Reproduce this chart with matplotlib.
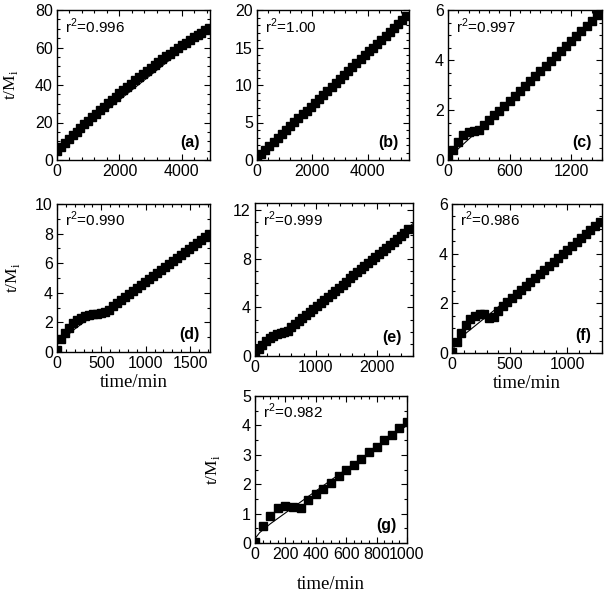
import matplotlib
matplotlib.use("Agg")
import matplotlib.pyplot as plt
from matplotlib.ticker import MultipleLocator

plt.rcParams['font.family'] = ['Liberation Sans', 'DejaVu Sans']
plt.rcParams['font.size'] = 11

# ---- data (time in min, t/Mi) ----
a_x = [0, 125, 250, 375, 500, 625, 750, 875, 1000, 1125, 1250, 1375, 1500, 1625,
       1750, 1875, 2000, 2125, 2250, 2375, 2500, 2625, 2750, 2875, 3000, 3125,
       3250, 3375, 3500, 3625, 3750, 3875, 4000, 4125, 4250, 4375, 4500, 4625,
       4750, 4875]
a_y = [5.0, 7.0, 9.1, 11.1, 13.1, 15.1, 17.0, 19.0, 20.9, 22.8, 24.7, 26.5,
       28.4, 30.2, 32.0, 33.8, 35.6, 37.3, 39.1, 40.8, 42.5, 44.1, 45.8, 47.4,
       49.0, 50.6, 52.2, 53.7, 55.3, 56.8, 58.3, 59.7, 61.2, 62.6, 64.0, 65.4,
       66.7, 68.0, 69.3, 70.6]

b_x = [0, 150, 300, 450, 600, 750, 900, 1050, 1200, 1350, 1500, 1650, 1800, 1950,
       2100, 2250, 2400, 2550, 2700, 2850, 3000, 3150, 3300, 3450, 3600, 3750,
       3900, 4050, 4200, 4350, 4500, 4650, 4800, 4950, 5100, 5250, 5400]
b_y = [0.3, 0.83, 1.35, 1.88, 2.4, 2.93, 3.45, 3.98, 4.5, 5.03, 5.55, 6.08, 6.6,
       7.13, 7.65, 8.18, 8.7, 9.23, 9.75, 10.28, 10.8, 11.33, 11.85, 12.38, 12.9,
       13.43, 13.95, 14.48, 15.0, 15.53, 16.05, 16.58, 17.1, 17.63, 18.15, 18.68,
       19.2]

c_x = [0, 50, 100, 150, 200, 250, 300, 350, 400, 450, 500, 550, 600, 650, 700,
       750, 800, 850, 900, 950, 1000, 1050, 1100, 1150, 1200, 1250, 1300, 1350,
       1400, 1450]
c_y = [0.05, 0.4, 0.72, 1.0, 1.12, 1.17, 1.19, 1.39, 1.59, 1.79, 1.97, 2.17, 2.37,
       2.57, 2.77, 2.97, 3.17, 3.37, 3.57, 3.77, 3.97, 4.17, 4.37, 4.57, 4.77,
       4.97, 5.18, 5.38, 5.58, 5.79]

d_x = [0, 45, 90, 135, 180, 225, 270, 315, 360, 405, 450, 495, 540, 585, 630, 675,
       720, 765, 810, 855, 900, 945, 990, 1035, 1080, 1125, 1170, 1215, 1260,
       1305, 1350, 1395, 1440, 1485, 1530, 1575, 1620, 1665, 1710]
d_y = [0.15, 0.9, 1.3, 1.65, 1.95, 2.15, 2.3, 2.42, 2.5, 2.55, 2.58, 2.62, 2.7,
       2.85, 3.1, 3.3, 3.5, 3.71, 3.91, 4.11, 4.32, 4.52, 4.72, 4.93, 5.13, 5.33,
       5.53, 5.74, 5.94, 6.14, 6.35, 6.55, 6.75, 6.95, 7.16, 7.36, 7.56, 7.77,
       7.97]

e_x = [0, 60, 120, 180, 240, 300, 360, 420, 480, 540, 600, 660, 720, 780, 840,
       900, 960, 1020, 1080, 1140, 1200, 1260, 1320, 1380, 1440, 1500, 1560, 1620,
       1680, 1740, 1800, 1860, 1920, 1980, 2040, 2100, 2160, 2220, 2280, 2340,
       2400, 2460, 2520]
e_y = [0.2, 0.55, 0.9, 1.2, 1.45, 1.65, 1.8, 1.9, 1.97, 2.1, 2.35, 2.6, 2.85, 3.1,
       3.36, 3.61, 3.86, 4.11, 4.37, 4.62, 4.87, 5.12, 5.38, 5.63, 5.88, 6.13,
       6.39, 6.64, 6.89, 7.14, 7.4, 7.65, 7.9, 8.15, 8.41, 8.66, 8.91, 9.16, 9.42,
       9.67, 9.92, 10.17, 10.43]

f_x = [0, 40, 80, 120, 160, 200, 240, 280, 320, 360, 400, 440, 480, 520, 560, 600,
       640, 680, 720, 760, 800, 840, 880, 920, 960, 1000, 1040, 1080, 1120, 1160,
       1200, 1240, 1280]
f_y = [0.05, 0.45, 0.8, 1.12, 1.38, 1.5, 1.58, 1.58, 1.42, 1.45, 1.7, 1.88, 2.05,
       2.22, 2.38, 2.55, 2.71, 2.87, 3.03, 3.19, 3.35, 3.51, 3.67, 3.83, 3.99,
       4.15, 4.31, 4.47, 4.63, 4.79, 4.95, 5.11, 5.27]

g_x = [0, 50, 100, 150, 200, 250, 300, 350, 400, 450, 500, 550, 600, 650, 700,
       750, 800, 850, 900, 950, 1000]
g_y = [0.02, 0.57, 0.93, 1.2, 1.27, 1.24, 1.2, 1.45, 1.65, 1.85, 2.05, 2.27, 2.47,
       2.67, 2.87, 3.08, 3.28, 3.49, 3.69, 3.9, 4.1]

# fitted curves (thin lines)
a_fx = [0, 4900]
a_fy = [5.5, 70.5]
b_fx = [0, 5500]
b_fy = [0.3, 19.6]
c_fx = [0, 100, 300, 1500]
c_fy = [0.05, 0.45, 1.2, 5.98]
d_fx = [0, 100, 200, 300, 400, 500, 600, 800, 1725]
d_fy = [0.5, 1.05, 1.55, 2.0, 2.4, 2.75, 3.1, 3.96, 8.0]
e_fx = [0, 200, 400, 600, 2600]
e_fy = [0.35, 1.2, 1.95, 2.6, 10.9]
f_fx = [0, 30, 100, 300, 1300]
f_fy = [0.05, 0.35, 0.72, 1.47, 5.3]
g_fx = [0, 30, 100, 1000]
g_fy = [0.15, 0.35, 0.65, 4.0]

r2_labels = ['0.996', '1.00', '0.997', '0.990', '0.999', '0.986', '0.982']
panel_tags = ['(a)', '(b)', '(c)', '(d)', '(e)', '(f)', '(g)']

fig = plt.figure(figsize=(6.07, 5.92), dpi=100)
W, H = 607.0, 592.0

def make_axes(l, r, t, b):
    return fig.add_axes([l / W, 1 - b / H, (r - l) / W, (b - t) / H])

# pixel boxes: left, right, top, bottom
boxes = [(57, 210, 10, 160), (257, 409, 10, 160), (448, 602, 10, 160),
         (57, 210, 204, 352), (255, 413, 203, 356), (452, 602, 204, 353),
         (255, 407, 396, 543)]
limits = [((0, 4900), (0, 80)), ((0, 5500), (0, 20)), ((0, 1500), (0, 6)),
          ((0, 1725), (0, 10)), ((0, 2600), (0, 12.6)), ((0, 1300), (0, 6)),
          ((0, 1000), (0, 5))]
ticks = [(2000, 400, 20, 5), (2000, 400, 5, 1), (600, 100, 2, 0.5),
         (500, 100, 2, 1), (1000, 200, 4, 1), (500, 100, 2, 0.5),
         (200, 50, 1, 0.5)]
msizes = [6.2, 6.2, 5.8, 6.0, 6.2, 5.8, 5.5]
series = [(a_x, a_y, a_fx, a_fy), (b_x, b_y, b_fx, b_fy), (c_x, c_y, c_fx, c_fy),
          (d_x, d_y, d_fx, d_fy), (e_x, e_y, e_fx, e_fy), (f_x, f_y, f_fx, f_fy),
          (g_x, g_y, g_fx, g_fy)]

serif = ['Liberation Serif', 'DejaVu Serif']
axes = []
for i in range(7):
    ax = make_axes(*boxes[i])
    xs, ys, fx, fy = series[i]
    ax.plot(fx, fy, color='black', lw=0.8, zorder=2)
    ax.plot(xs, ys, 's', color='black', ms=msizes[i], mec='black', zorder=3)
    ax.set_xlim(*limits[i][0])
    ax.set_ylim(*limits[i][1])
    xmaj, xmin, ymaj, ymin = ticks[i]
    ax.xaxis.set_major_locator(MultipleLocator(xmaj))
    ax.xaxis.set_minor_locator(MultipleLocator(xmin))
    ax.yaxis.set_major_locator(MultipleLocator(ymaj))
    ax.yaxis.set_minor_locator(MultipleLocator(ymin))
    ax.tick_params(which='both', direction='in', top=True, right=True,
                   width=0.8, labelsize=11.5)
    ax.tick_params(which='major', length=4.5, pad=3)
    ax.tick_params(which='minor', length=2.5)
    for s in ax.spines.values():
        s.set_linewidth(1.0)
    ax.text(0.05, 0.85, r'r$^\mathregular{2}$=' + r2_labels[i],
            transform=ax.transAxes, fontsize=11, ha='left', va='baseline')
    ax.text(0.93, 0.07, panel_tags[i], transform=ax.transAxes, fontsize=11.5,
            fontweight='bold', ha='right', va='bottom')
    axes.append(ax)

for i in (0, 3, 6):
    axes[i].set_ylabel(r't/M$_\mathregular{i}$', family=serif, fontsize=12.5)
axes[0].yaxis.set_label_coords(-0.245, 0.5)
axes[3].yaxis.set_label_coords(-0.23, 0.5)
axes[6].yaxis.set_label_coords(-0.22, 0.5)

for i in (3, 5, 6):
    axes[i].set_xlabel('time/min', family=serif, fontsize=13.5)
axes[3].xaxis.set_label_coords(0.5, -0.15)
axes[5].xaxis.set_label_coords(0.5, -0.15)
axes[6].xaxis.set_label_coords(0.5, -0.225)

fig.savefig('out.png', dpi=100)
